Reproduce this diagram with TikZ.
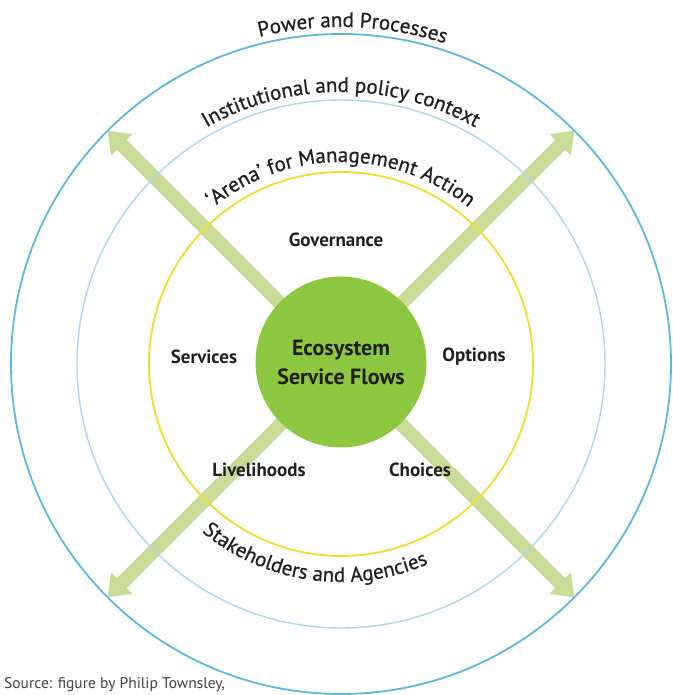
\documentclass[tikz,border=0pt]{standalone}
\usepackage{fontspec}
\setmainfont{PT Sans}
\newfontfamily\ringfam{PT Sans}[FakeBold=0.7]
\usetikzlibrary{arrows.meta,decorations.text}

\definecolor{outerblue}{HTML}{5BB8E2}
\definecolor{midblue}{HTML}{AED6EC}
\definecolor{arenayellow}{HTML}{F6DA2A}
\definecolor{flowgreen}{HTML}{8DC63F}
\definecolor{arrowgreen}{HTML}{C8DC98}
\definecolor{labelgray}{HTML}{231F20}

\newcommand{\ringfont}{\ringfam\fontsize{21}{23}\selectfont\color{labelgray}}

\tikzset{
  flow/.style={line width=14pt, arrowgreen, -{Triangle[width=29pt,length=20pt]}},
  ringlabel/.style={decorate, decoration={text along path, text align=center,
      text={|\ringfont|#1}}},
  area/.style={font=\bfseries\fontsize{19}{21}\selectfont, text=labelgray},
}

\begin{document}
\begin{tikzpicture}[x=1pt,y=1pt]
  \useasboundingbox (-341,-331) rectangle (331,364);
  \coordinate (O) at (0,0);
  \foreach \a/\n in {45/ne,135/nw,225/sw,315/se}
    \coordinate (\n) at (\a:330);
  \foreach \n in {ne,nw,sw,se}
    \draw[flow] (O) -- (\n);

  \draw[outerblue, line width=1.8pt] (O) circle (330);
  \draw[midblue, line width=1.4pt] (O) circle (264);
  \draw[arenayellow, line width=1.8pt] (O) circle (192);
  \node[circle, fill=flowgreen, minimum size=171pt, align=center,
    font=\bfseries\fontsize{22}{29}\selectfont, text=labelgray] (eco) at (0,2)
    {Ecosystem\\Service Flows};

  \path[ringlabel={Power and Processes}] (163:337) arc[start angle=163, end angle=13, radius=337];
  \path[ringlabel={Institutional and policy context}] (170:272) arc[start angle=170, end angle=10, radius=272];
  \path[ringlabel={‘Arena’ for Management Action}] (175:202) arc[start angle=175, end angle=5, radius=202];
  \path[ringlabel={Stakeholders and Agencies}] (185:218) arc[start angle=185, end angle=339, radius=218];

  \node[area] (gov) at (-5,124) {Governance};
  \node[area] (serv) at (-137,7) {Services};
  \node[area] (opt) at (133,7) {Options};
  \node[area] (live) at (-82,-106) {Livelihoods};
  \node[area] (choice) at (79,-106) {Choices};

  \node[anchor=west, inner sep=0pt, font=\fontsize{15.5}{17}\selectfont, text=labelgray!85]
    (src) at (-337,-321) {Source: figure by Philip Townsley,};
\end{tikzpicture}
\end{document}
